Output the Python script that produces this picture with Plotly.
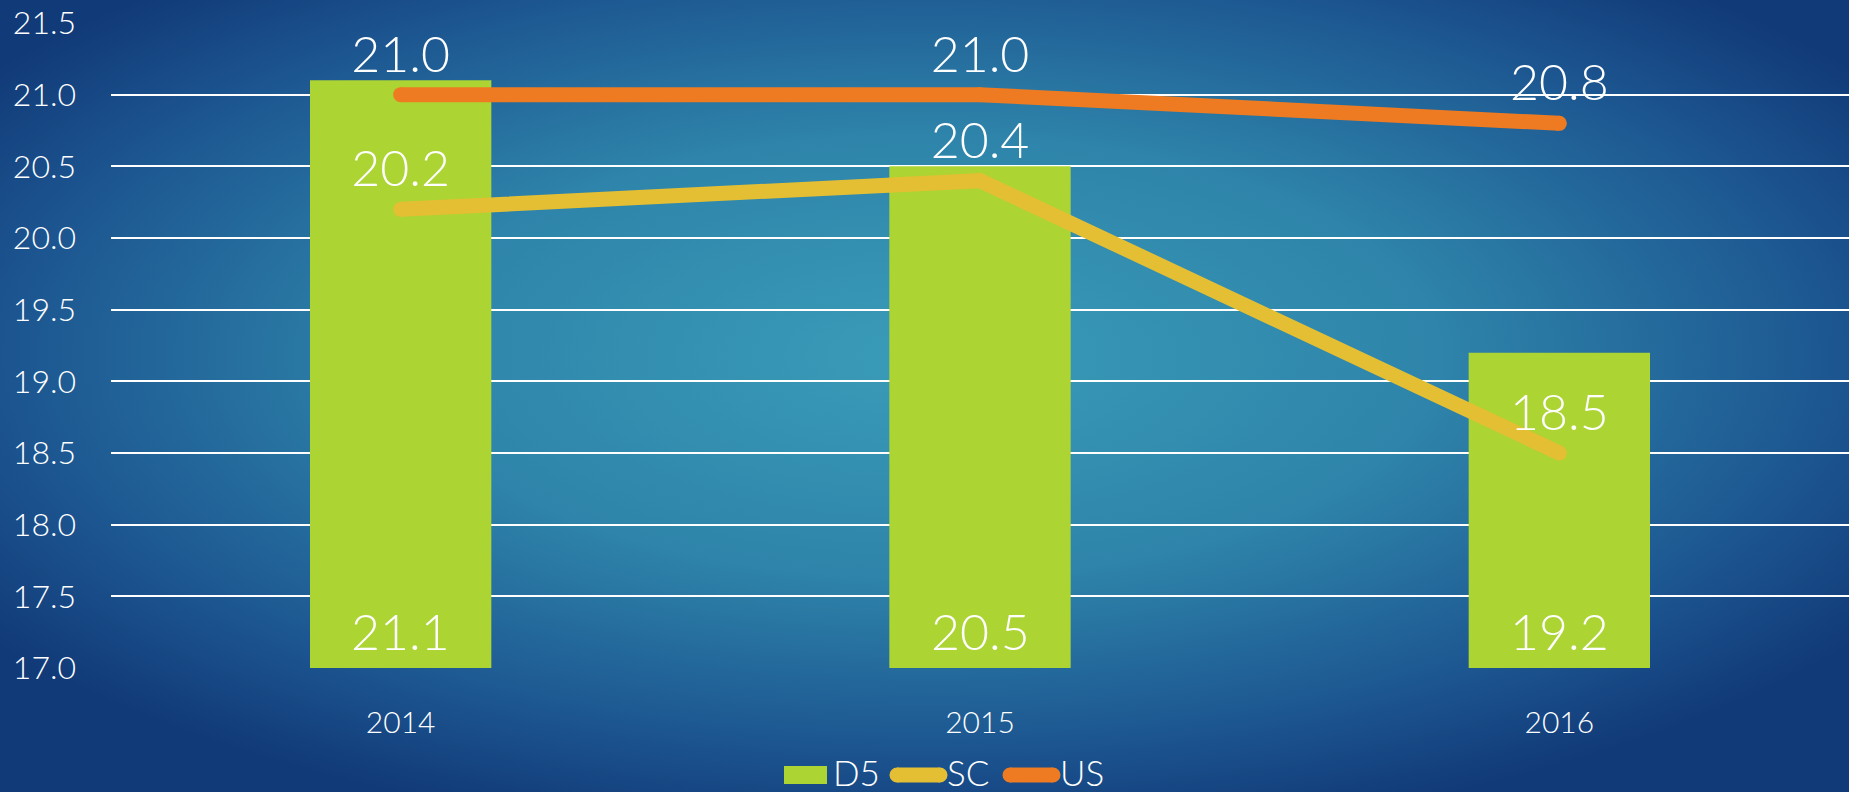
import base64
import plotly.graph_objects as go

years = ["2014", "2015", "2016"]
d5 = [21.1, 20.5, 19.2]
sc = [20.2, 20.4, 18.5]
us = [21.0, 21.0, 20.8]
y_ticks = [17.0, 17.5, 18.0, 18.5, 19.0, 19.5, 20.0, 20.5, 21.0, 21.5]
y_min, y_max = 17.0, 21.5
series_names = ["D5", "SC", "US"]
series_colors = ["#acd433", "#e5bf33", "#ee7b22"]

FONT = "Lato"
W, H = 1849, 792
L, R, T, B = 111, 0, 23, 124
PW, PH = W - L - R, H - T - B


def px_x(px):
    return (px - L) / PW


def px_y(py):
    return (T + PH - py) / PH


svg = f'''<svg xmlns="http://www.w3.org/2000/svg" width="{W}" height="{H}" viewBox="0 0 {W} {H}" preserveAspectRatio="none">
<defs><radialGradient id="g" cx="0.5" cy="0.45" r="0.62" gradientUnits="objectBoundingBox">
<stop offset="0" stop-color="#3a9cb8"/>
<stop offset="0.45" stop-color="#2e84aa"/>
<stop offset="0.8" stop-color="#1c5590"/>
<stop offset="1" stop-color="#113a78"/>
</radialGradient></defs>
<rect width="{W}" height="{H}" fill="url(#g)"/></svg>'''
src = "data:image/svg+xml;base64," + base64.b64encode(svg.encode()).decode()

fig = go.Figure()
fig.add_trace(go.Bar(
    x=years, y=d5, name=series_names[0], marker=dict(color=series_colors[0], line=dict(width=0)),
    width=0.313,
))
for name, vals, col in [(series_names[1], sc, series_colors[1]), (series_names[2], us, series_colors[2])]:
    fig.add_trace(go.Scatter(
        x=years, y=vals, name=name, mode="lines+markers+text",
        line=dict(color=col, width=15), marker=dict(size=15, color=col),
        text=[f"{v:.1f}" for v in vals], textposition="top center",
        textfont=dict(family=FONT, size=50, color="white", weight=300),
    ))

annotations = []
# bar value labels at the bar base (inside); x given as category index
for i, v in enumerate(d5):
    annotations.append(dict(text=f"{v:.1f}", x=i, y=y_min, xref="x", yref="y",
                            xanchor="center", yanchor="middle", yshift=37, showarrow=False,
                            font=dict(family=FONT, size=50, color="white", weight=300)))

# custom legend (bottom)
ly = 775
ty = 772
shapes = []
shapes.append(dict(type="rect", xref="paper", yref="paper",
                   x0=px_x(784), x1=px_x(827), y0=px_y(784), y1=px_y(766),
                   fillcolor=series_colors[0], line=dict(width=0), layer="above"))
annotations.append(dict(text=series_names[0], xref="paper", yref="paper", x=px_x(831), y=px_y(ty),
                        xanchor="left", yanchor="middle", showarrow=False,
                        font=dict(family=FONT, size=35, color="white", weight=300)))
for (x0, x1, tx), name, col in [((897, 940, 945), series_names[1], series_colors[1]),
                                ((1010, 1053, 1058), series_names[2], series_colors[2])]:
    shapes.append(dict(type="line", xref="paper", yref="paper",
                       x0=px_x(x0), x1=px_x(x1), y0=px_y(ly), y1=px_y(ly),
                       line=dict(color=col, width=15), layer="above"))
    for cx in (x0, x1):
        shapes.append(dict(type="circle", xref="paper", yref="paper",
                           xsizemode="pixel", ysizemode="pixel",
                           xanchor=px_x(cx), yanchor=px_y(ly),
                           x0=-7.5, x1=7.5, y0=-7.5, y1=7.5,
                           fillcolor=col, line=dict(width=0), layer="above"))
    annotations.append(dict(text=name, xref="paper", yref="paper", x=px_x(tx), y=px_y(ty),
                            xanchor="left", yanchor="middle", showarrow=False,
                            font=dict(family=FONT, size=35, color="white", weight=300)))

fig.update_layout(
    width=W, height=H,
    margin=dict(l=L, r=R, t=T, b=B, pad=0),
    paper_bgcolor="#113a78", plot_bgcolor="rgba(0,0,0,0)",
    font=dict(family=FONT, color="white", weight=300),
    showlegend=False,
    shapes=shapes, annotations=annotations,
    images=[dict(source=src, xref="paper", yref="paper",
                 x=-L / PW, y=1 + T / PH, sizex=W / PW, sizey=H / PH,
                 xanchor="left", yanchor="top", sizing="stretch", layer="below")],
    xaxis=dict(type="category", range=[-0.5, len(years) - 0.5], showgrid=False,
               showline=False, zeroline=False,
               ticks="outside", ticklen=28, tickcolor="rgba(0,0,0,0)",
               tickfont=dict(family=FONT, size=30, color="white", weight=300)),
    yaxis=dict(range=[y_min, y_max], tickvals=y_ticks, ticktext=[f"{v:.1f}" for v in y_ticks],
               showgrid=True, gridcolor="white", gridwidth=2, zeroline=False,
               showline=False, ticks="", ticklabelstandoff=34,
               tickfont=dict(family=FONT, size=32, color="white", weight=300)),
)

fig.write_html("out.html", config={"displayModeBar": False},
               post_script="document.body.style.margin='0';document.body.style.overflow='hidden';")
